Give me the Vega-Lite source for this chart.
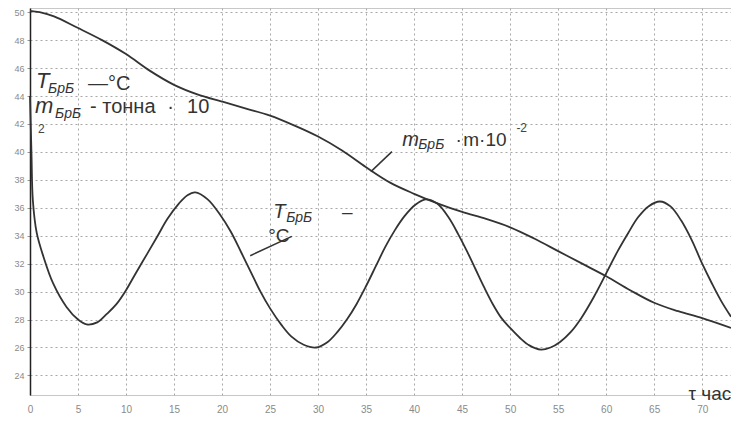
{
  "$schema": "https://vega.github.io/schema/vega-lite/v6.json",
  "autosize": "none",
  "width": 701,
  "height": 387,
  "padding": {"left": 30, "top": 8, "right": 0, "bottom": 26},
  "background": "#ffffff",
  "config": {
    "view": {"stroke": "#c8c8c8", "strokeWidth": 1},
    "font": "Liberation Sans"
  },
  "datasets": {
    "curves": [
      {"t": 0, "v": 50.1, "s": "m"}, {"t": 1, "v": 50.0, "s": "m"}, {"t": 2.5, "v": 49.7, "s": "m"},
      {"t": 4.9, "v": 48.9, "s": "m"}, {"t": 7.5, "v": 48.0, "s": "m"}, {"t": 10, "v": 47.0, "s": "m"},
      {"t": 12.5, "v": 45.8, "s": "m"}, {"t": 15, "v": 44.8, "s": "m"}, {"t": 17.5, "v": 44.1, "s": "m"},
      {"t": 20, "v": 43.6, "s": "m"}, {"t": 22.5, "v": 43.1, "s": "m"}, {"t": 25, "v": 42.6, "s": "m"},
      {"t": 27.5, "v": 41.9, "s": "m"}, {"t": 30, "v": 41.1, "s": "m"}, {"t": 32.5, "v": 40.1, "s": "m"},
      {"t": 35, "v": 38.9, "s": "m"}, {"t": 37.5, "v": 37.8, "s": "m"}, {"t": 40, "v": 37.0, "s": "m"},
      {"t": 42.5, "v": 36.3, "s": "m"}, {"t": 45, "v": 35.7, "s": "m"},
      {"t": 47.5, "v": 35.2, "s": "m"}, {"t": 50, "v": 34.6, "s": "m"}, {"t": 52.5, "v": 33.8, "s": "m"},
      {"t": 55, "v": 32.9, "s": "m"}, {"t": 57.5, "v": 32.0, "s": "m"}, {"t": 60, "v": 31.1, "s": "m"},
      {"t": 62.5, "v": 30.1, "s": "m"}, {"t": 65, "v": 29.2, "s": "m"},
      {"t": 67.5, "v": 28.6, "s": "m"}, {"t": 70, "v": 28.1, "s": "m"}, {"t": 73, "v": 27.4, "s": "m"},
      {"t": 0, "v": 44, "s": "T"}, {"t": 0.15, "v": 40, "s": "T"}, {"t": 0.3, "v": 36.5, "s": "T"},
      {"t": 0.7, "v": 34.2, "s": "T"}, {"t": 1.4, "v": 32.5, "s": "T"}, {"t": 2.4, "v": 30.6, "s": "T"},
      {"t": 3.8, "v": 28.9, "s": "T"}, {"t": 5.0, "v": 28.0, "s": "T"}, {"t": 5.9, "v": 27.65, "s": "T"},
      {"t": 7.0, "v": 27.8, "s": "T"}, {"t": 8.0, "v": 28.4, "s": "T"}, {"t": 9.0, "v": 29.1, "s": "T"},
      {"t": 10, "v": 30.1, "s": "T"}, {"t": 11, "v": 31.3, "s": "T"}, {"t": 12.2, "v": 32.7, "s": "T"},
      {"t": 13.3, "v": 34.0, "s": "T"}, {"t": 14.3, "v": 35.2, "s": "T"}, {"t": 15.5, "v": 36.3, "s": "T"},
      {"t": 16.4, "v": 36.9, "s": "T"},
      {"t": 17.2, "v": 37.1, "s": "T"}, {"t": 18.5, "v": 36.6, "s": "T"}, {"t": 19.8, "v": 35.5, "s": "T"},
      {"t": 20.9, "v": 34.3, "s": "T"}, {"t": 22.0, "v": 32.8, "s": "T"}, {"t": 23.0, "v": 31.4, "s": "T"},
      {"t": 24.0, "v": 30.0, "s": "T"},
      {"t": 25.0, "v": 28.8, "s": "T"}, {"t": 26.2, "v": 27.6, "s": "T"}, {"t": 27.2, "v": 26.8, "s": "T"},
      {"t": 28.5, "v": 26.2, "s": "T"}, {"t": 29.8, "v": 26.0, "s": "T"}, {"t": 31, "v": 26.4, "s": "T"},
      {"t": 32, "v": 27.1, "s": "T"}, {"t": 33, "v": 28.0, "s": "T"}, {"t": 34, "v": 29.1, "s": "T"},
      {"t": 35, "v": 30.4, "s": "T"}, {"t": 36, "v": 31.8, "s": "T"}, {"t": 37, "v": 33.2, "s": "T"},
      {"t": 38, "v": 34.4, "s": "T"}, {"t": 39, "v": 35.4, "s": "T"}, {"t": 40.1, "v": 36.2, "s": "T"},
      {"t": 41.2, "v": 36.6, "s": "T"}, {"t": 42.4, "v": 36.3, "s": "T"}, {"t": 43.6, "v": 35.3, "s": "T"},
      {"t": 44.6, "v": 34.1, "s": "T"}, {"t": 45.5, "v": 32.9, "s": "T"}, {"t": 46.4, "v": 31.6, "s": "T"},
      {"t": 47.3, "v": 30.3, "s": "T"}, {"t": 48.2, "v": 29.1, "s": "T"}, {"t": 49.1, "v": 28.1, "s": "T"},
      {"t": 50, "v": 27.4, "s": "T"}, {"t": 51, "v": 26.7, "s": "T"}, {"t": 52, "v": 26.15, "s": "T"},
      {"t": 53.2, "v": 25.85, "s": "T"}, {"t": 54.2, "v": 26.0, "s": "T"}, {"t": 55.2, "v": 26.4, "s": "T"},
      {"t": 56.3, "v": 27.1, "s": "T"}, {"t": 57.4, "v": 28.1, "s": "T"}, {"t": 58.7, "v": 29.6, "s": "T"},
      {"t": 60, "v": 31.3, "s": "T"}, {"t": 61.2, "v": 32.9, "s": "T"}, {"t": 62.3, "v": 34.2, "s": "T"},
      {"t": 63.3, "v": 35.3, "s": "T"}, {"t": 64.4, "v": 36.1, "s": "T"}, {"t": 65.6, "v": 36.45, "s": "T"},
      {"t": 66.7, "v": 36.1, "s": "T"}, {"t": 67.8, "v": 35.1, "s": "T"}, {"t": 68.9, "v": 33.7, "s": "T"},
      {"t": 70, "v": 32.0, "s": "T"}, {"t": 71, "v": 30.6, "s": "T"}, {"t": 72, "v": 29.3, "s": "T"},
      {"t": 73, "v": 28.2, "s": "T"}
    ],
    "leaders": [
      {"t": 37.69, "v": 40.02, "t2": 35.5, "v2": 38.59},
      {"t": 27.27, "v": 33.95, "t2": 22.93, "v2": 32.57}
    ],
    "bigItalic": [
      {"t": 0.63, "v": 44.57, "label": "T"},
      {"t": 0.52, "v": 42.79, "label": "m"}
    ],
    "midItalic": [
      {"t": 38.77, "v": 40.43, "label": "m"},
      {"t": 25.32, "v": 35.29, "label": "T"}
    ],
    "subs": [
      {"t": 1.88, "v": 44.21, "label": "БрБ"},
      {"t": 2.61, "v": 42.43, "label": "БрБ"},
      {"t": 40.43, "v": 40.21, "label": "БрБ"},
      {"t": 26.68, "v": 35.0, "label": "БрБ"}
    ],
    "plainBig": [
      {"t": 6.04, "v": 44.43, "label": "—°C"},
      {"t": 6.25, "v": 42.79, "label": "- тонна"},
      {"t": 14.3, "v": 42.79, "label": "·"},
      {"t": 16.36, "v": 42.79, "label": "10"}
    ],
    "plainMid": [
      {"t": 44.3, "v": 40.43, "label": "·"},
      {"t": 45.12, "v": 40.43, "label": "m·10"},
      {"t": 32.5, "v": 35.29, "label": "–"},
      {"t": 24.8, "v": 33.57, "label": "°C"},
      {"t": 68.57, "v": 22.21, "label": "τ час"}
    ],
    "small": [
      {"t": 50.65, "v": 41.43, "label": "-2"},
      {"t": 0.83, "v": 41.36, "label": "2"}
    ]
  },
  "encoding": {
    "x": {
      "field": "t", "type": "quantitative",
      "scale": {"domain": [0, 73], "nice": false, "zero": false},
      "axis": {
        "values": [0, 5, 10, 15, 20, 25, 30, 35, 40, 45, 50, 55, 60, 65, 70],
        "title": null, "domain": false, "ticks": false,
        "grid": true, "gridColor": "#a8a8a8", "gridDash": [2, 3], "gridWidth": 1,
        "labelColor": "#8a8a8a", "labelFontSize": 10, "labelPadding": 9,
        "labelFlush": false
      }
    },
    "y": {
      "field": "v", "type": "quantitative",
      "scale": {"domain": [22.6, 50.3], "nice": false, "zero": false},
      "axis": {
        "values": [24, 26, 28, 30, 32, 34, 36, 38, 40, 42, 44, 46, 48, 50],
        "title": null, "domain": true, "domainColor": "#222", "domainWidth": 1.5,
        "ticks": true, "tickSize": 3, "tickColor": "#999",
        "grid": true, "gridColor": "#a8a8a8", "gridDash": [2, 3], "gridWidth": 1,
        "labelColor": "#8a8a8a", "labelFontSize": 9, "labelPadding": 3
      }
    }
  },
  "layer": [
    {
      "data": {"name": "curves"},
      "mark": {"type": "line", "color": "#333333", "strokeWidth": 1.8, "interpolate": "catmull-rom"},
      "encoding": {"detail": {"field": "s"}}
    },
    {
      "data": {"name": "leaders"},
      "mark": {"type": "rule", "color": "#333333", "strokeWidth": 1.5},
      "encoding": {
        "x2": {"field": "t2"},
        "y2": {"field": "v2"}
      }
    },
    {
      "data": {"name": "bigItalic"},
      "mark": {"type": "text", "align": "left", "baseline": "alphabetic", "fontSize": 22, "fontStyle": "italic", "color": "#333"},
      "encoding": {"text": {"field": "label"}}
    },
    {
      "data": {"name": "midItalic"},
      "mark": {"type": "text", "align": "left", "baseline": "alphabetic", "fontSize": 20, "fontStyle": "italic", "color": "#333"},
      "encoding": {"text": {"field": "label"}}
    },
    {
      "data": {"name": "subs"},
      "mark": {"type": "text", "align": "left", "baseline": "alphabetic", "fontSize": 14, "fontStyle": "italic", "color": "#333"},
      "encoding": {"text": {"field": "label"}}
    },
    {
      "data": {"name": "plainBig"},
      "mark": {"type": "text", "align": "left", "baseline": "alphabetic", "fontSize": 20, "color": "#333"},
      "encoding": {"text": {"field": "label"}}
    },
    {
      "data": {"name": "plainMid"},
      "mark": {"type": "text", "align": "left", "baseline": "alphabetic", "fontSize": 19, "color": "#333"},
      "encoding": {"text": {"field": "label"}}
    },
    {
      "data": {"name": "small"},
      "mark": {"type": "text", "align": "left", "baseline": "alphabetic", "fontSize": 12, "color": "#444"},
      "encoding": {"text": {"field": "label"}}
    }
  ]
}
